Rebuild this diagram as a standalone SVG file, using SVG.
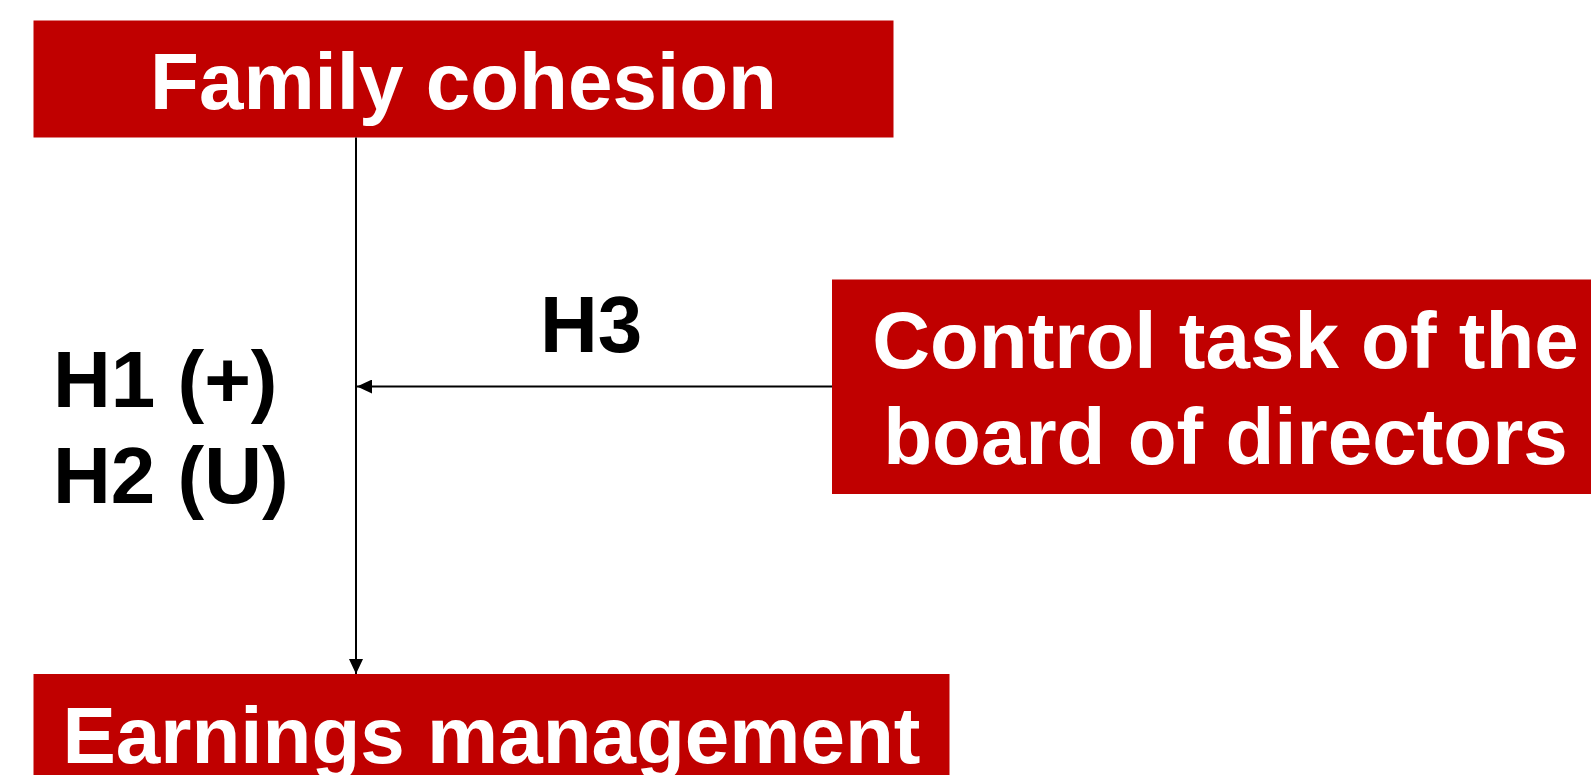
<svg xmlns="http://www.w3.org/2000/svg" width="1591" height="775" viewBox="0 0 1591 775">
<style>
.box{fill:#C00000;}
.lbl{font-family:"Liberation Sans",Arial,sans-serif;font-weight:bold;font-size:80px;fill:#ffffff;text-anchor:middle;}
.hyp{font-family:"Liberation Sans",Arial,sans-serif;font-weight:bold;font-size:80px;fill:#000000;}
.conn{stroke:#000000;stroke-width:2;fill:none;}
</style>
<defs>
<marker id="arr" markerWidth="15" markerHeight="14" refX="15" refY="7" orient="auto" markerUnits="userSpaceOnUse">
<path d="M0,0 L15,7 L0,14 Z" fill="#000000"/>
</marker>
</defs>
<rect width="1591" height="775" fill="#ffffff"/>
<g id="family-cohesion">
<rect class="box" x="33.5" y="20.5" width="860" height="117"/>
<text class="lbl" x="463.5" y="109">Family cohesion</text>
</g>
<g id="earnings-management">
<rect class="box" x="33.5" y="674" width="916" height="110"/>
<text class="lbl" x="491.5" y="763">Earnings management</text>
</g>
<g id="control-task">
<rect class="box" x="832" y="279.5" width="770" height="214.5"/>
<text class="lbl" x="1225.5" y="367.5">Control task of the</text>
<text class="lbl" x="1225.5" y="464">board of directors</text>
</g>
<g id="connectors">
<line class="conn" x1="356" y1="137.5" x2="356" y2="674" marker-end="url(#arr)"/>
<line class="conn" x1="832" y1="386.5" x2="357" y2="386.5" marker-end="url(#arr)"/>
</g>
<g id="labels">
<text class="hyp" x="540" y="352">H3</text>
<text class="hyp" x="53" y="407">H1 (+)</text>
<text class="hyp" x="53" y="503">H2 (U)</text>
</g>
</svg>
